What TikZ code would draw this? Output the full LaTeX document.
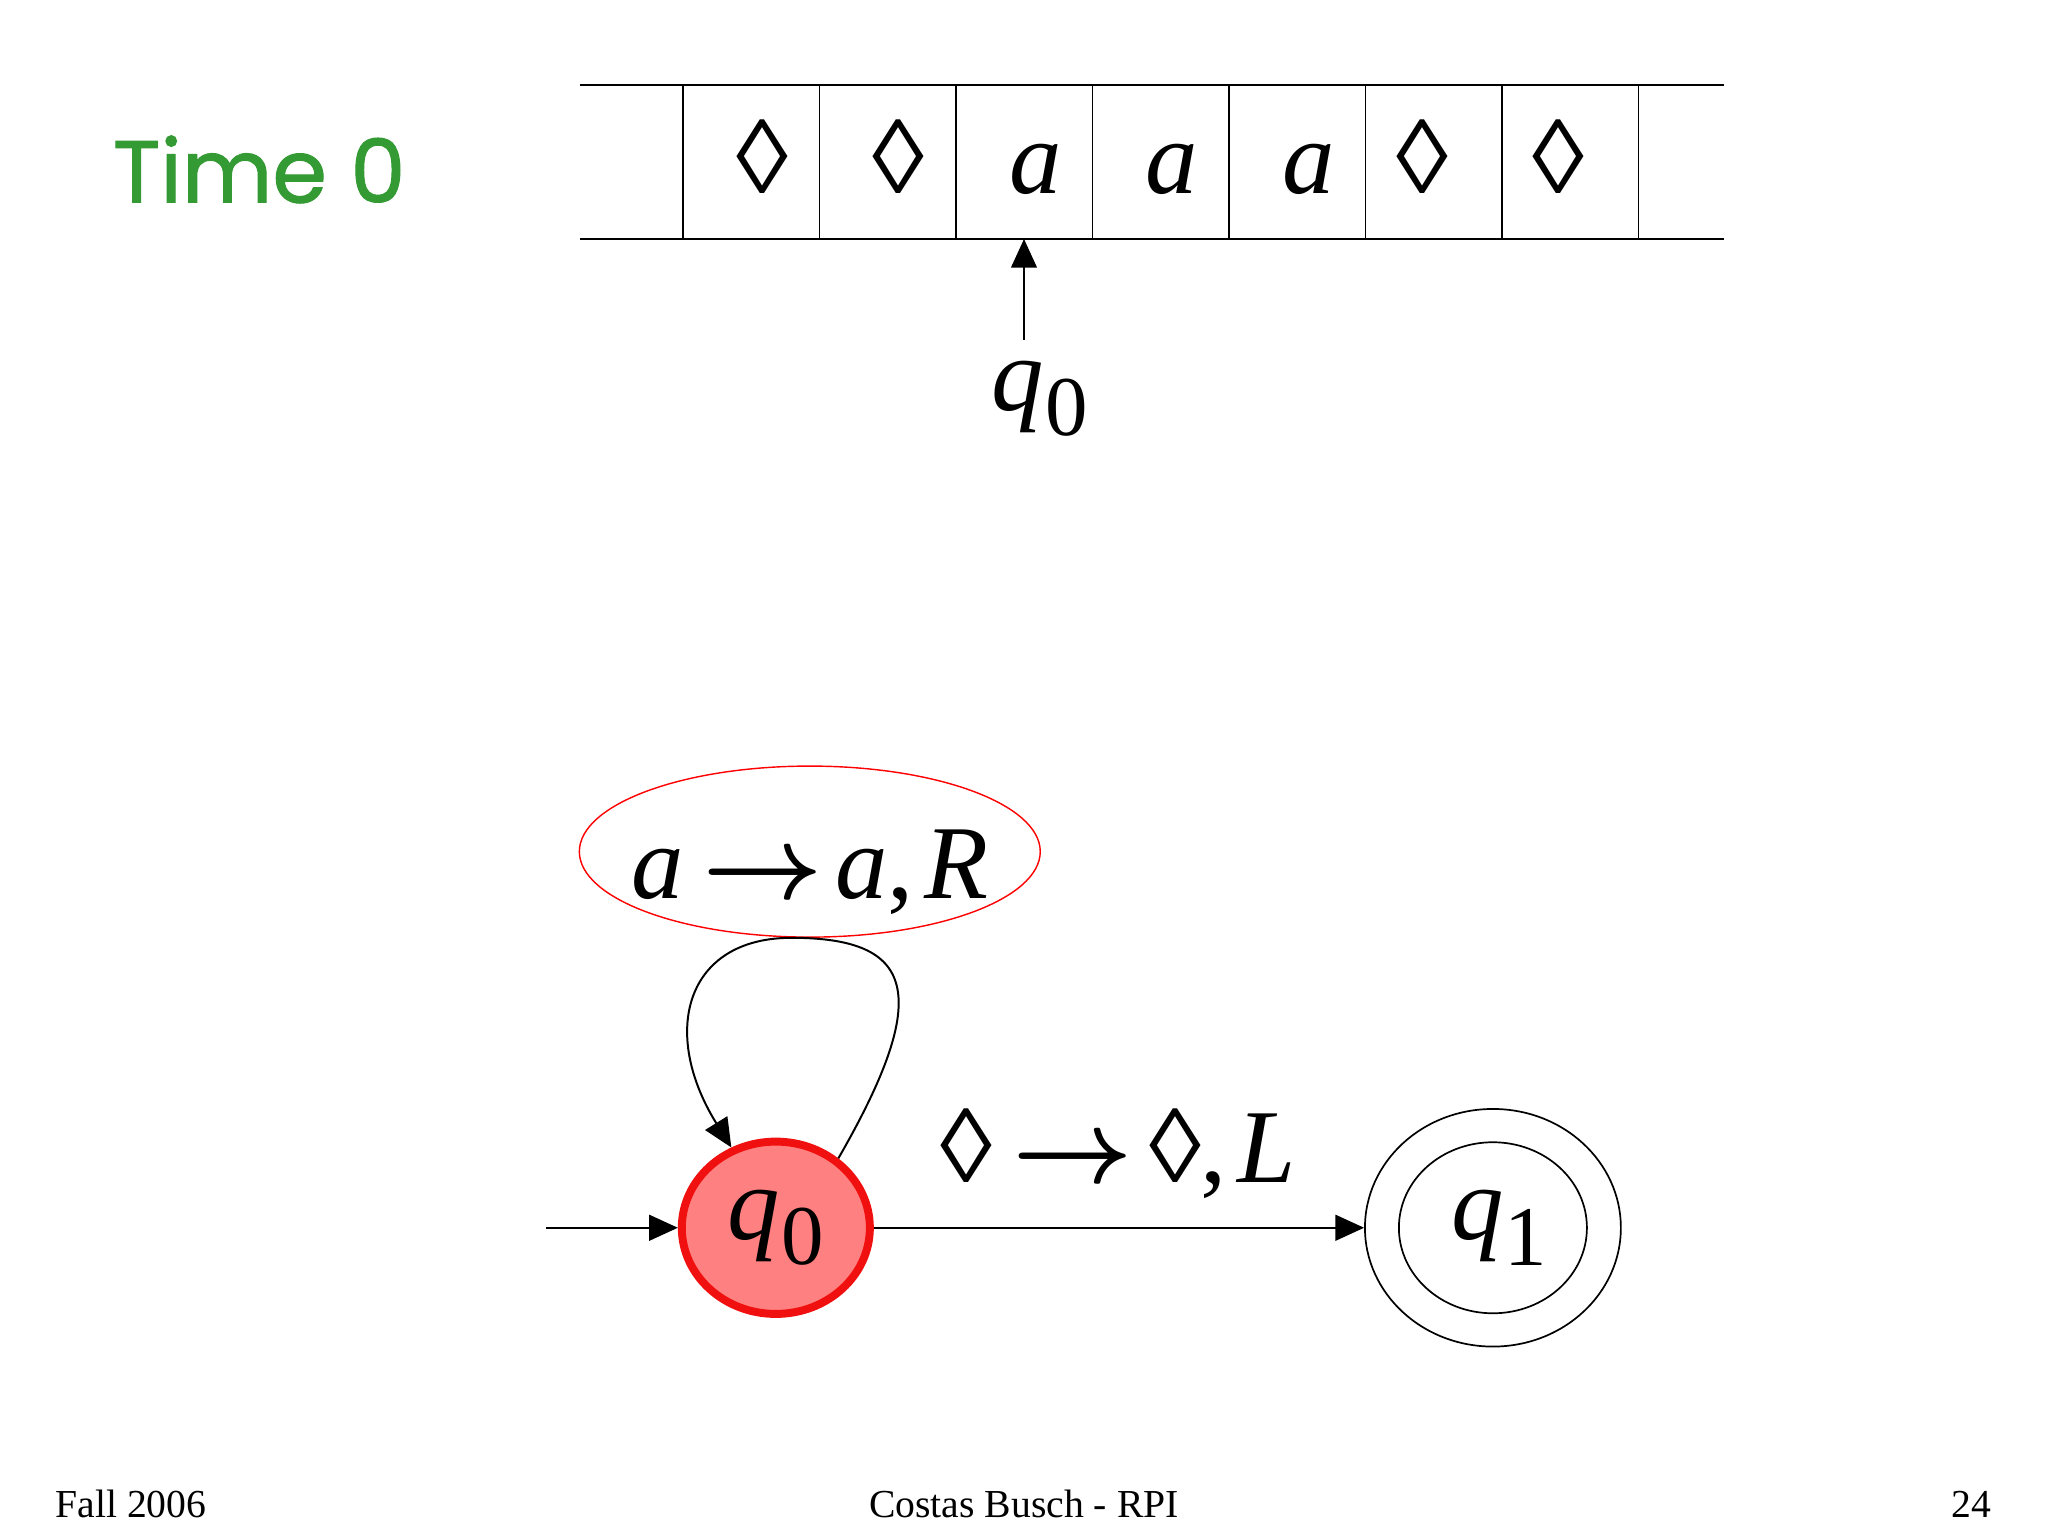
\documentclass[tikz,border=0pt]{standalone}
\usepackage{fix-cm}
\usepackage{fontspec}
\setmainfont{Liberation Serif}
\newfontfamily\timefont[FakeBold=1.2]{Poppins}
\usetikzlibrary{arrows.meta,shapes.geometric}
\definecolor{timegreen}{RGB}{52,155,52}
\definecolor{statefill}{RGB}{255,128,128}
\definecolor{statered}{RGB}{240,16,16}
\newcommand\mi[1]{\textit{#1}}
\newcommand\qsub[2]{\mi{#1}\kern0.01em\raisebox{-0.24em}{\fontsize{30}{30}\selectfont #2}}
\newcommand\lz{◊}
\newcommand\arrw{{\boldmath$\rightarrow$}}
\begin{document}
\begin{tikzpicture}[x=0.016199cm,y=-0.016199cm,
  tapeline/.style={line width=0.9pt},
  celldiv/.style={line width=0.6pt},
  sym/.style={font=\fontsize{37}{44}\selectfont, inner sep=0pt, anchor=base},
  arr/.style={line width=0.7pt, -{Triangle[length=0.356cm,width=0.32cm]}},
  foot/.style={font=\fontsize{14}{17}\selectfont, inner sep=0pt},
  stateA/.style={ellipse, draw=statered, line width=2.8pt, fill=statefill,
     minimum width=2.333cm, minimum height=2.138cm, inner sep=0pt,
     font=\fontsize{37}{44}\selectfont},
  stateB/.style={ellipse, draw, line width=0.6pt,
     minimum width=3.175cm, minimum height=2.948cm, inner sep=0pt,
     font=\fontsize{37}{44}\selectfont},
  stateBin/.style={ellipse, draw, line width=0.6pt,
     minimum width=2.333cm, minimum height=2.122cm, inner sep=0pt},
  redell/.style={ellipse, draw=red, line width=0.5pt,
     minimum width=5.718cm, minimum height=2.122cm, inner sep=0pt}
]
\useasboundingbox[fill=white] (0,0) rectangle (1568,1176);

% title
\node[anchor=base west, font=\timefont\fontsize{31}{38}\selectfont, text=timegreen, inner sep=0pt] (time) at (86,155) {Time 0};

% tape
\draw[tapeline] (444,65) -- (1320,65);
\draw[tapeline] (444,183) -- (1320,183);
\foreach \x in {523,627.5,732,836.5,941,1045.5,1150,1254.5}
  \draw[celldiv] (\x,65) -- (\x,183);
\node[sym] (c1) at (584,148) {\lz};
\node[sym] (c2) at (688,148) {\lz};
\node[sym] (c3) at (793,148) {\mi{a}};
\node[sym] (c4) at (897,148) {\mi{a}};
\node[sym] (c5) at (1002,148) {\mi{a}};
\node[sym] (c6) at (1089,148) {\lz};
\node[sym] (c7) at (1193,148) {\lz};

% head
\coordinate (head) at (784,183);
\coordinate (headfoot) at (784,260);
\draw[arr] (headfoot) -- (head);
\node[sym] (hq) at (796,314) {\qsub{q}{0}};

% states
\node[stateA] (q0) at (594,940) {\qsub{q}{0}};
\node[stateB] (q1) at (1143,940) {\kern0.12em\qsub{q}{1}};
\node[stateBin] (q1in) at (q1.center) {};

% start arrow
\coordinate (init) at (418,940);
\draw[arr] (init) -- (q0.west);

% transition
\draw[arr] (q0.east) -- (q1.west);
\node[sym] (lblB) at (856,905) {\lz\kern0.2em\arrw\kern0.15em\lz,\kern0.1em\mi{L}};

% self loop
\node[redell] (ra) at (620,652) {};
\node[sym] (ratext) at (620,688) {\mi{a}\kern0.18em\arrw\kern0.12em\mi{a},\kern0.1em\mi{R}};
\coordinate (looptop) at (606,718);
\draw[arr] (q0.48) .. controls (715,760) and (700,718) .. (looptop)
   .. controls (525,718) and (505,790) .. (q0.119);

% footer
\node[foot, anchor=base west] (f1) at (42,1162) {Fall 2006};
\node[foot, anchor=base] (f2) at (784,1162) {Costas Busch - RPI};
\node[foot, anchor=base east] (f3) at (1525,1162) {24};
\end{tikzpicture}
\end{document}
